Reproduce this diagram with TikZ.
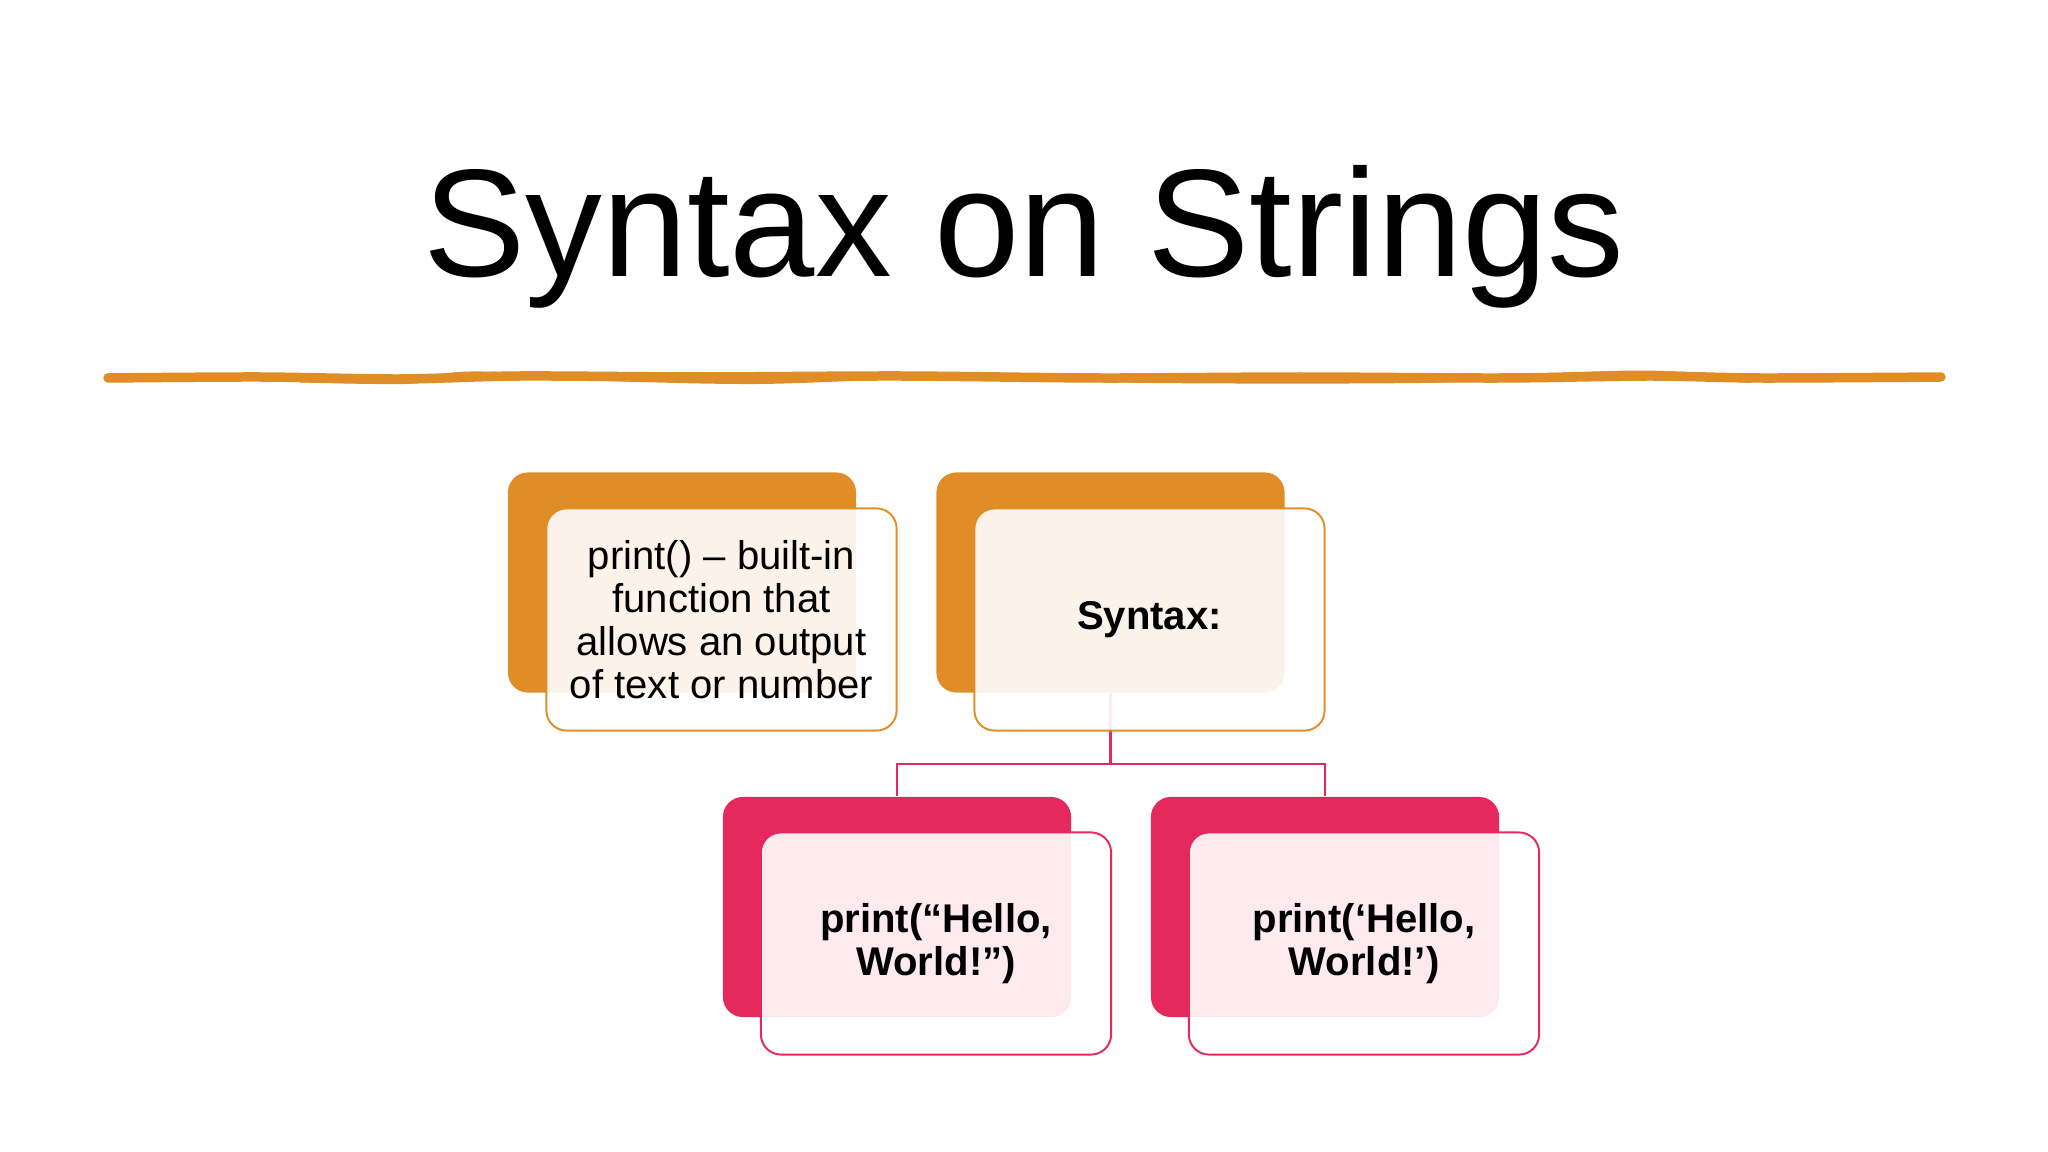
\documentclass[tikz,border=0pt]{standalone}
\usepackage{fontspec}
\setmainfont{Liberation Sans}
\usepackage{xcolor}
\usepackage{tikz}
\definecolor{ochre}{HTML}{E08D27}
\definecolor{rose}{HTML}{E5295C}

\begin{document}
\begin{tikzpicture}[x=0.01cm, y=-0.01cm,
  backbox/.style={rectangle, rounded corners=0.2cm, minimum width=3.48cm, minimum height=2.2cm, inner sep=0pt},
  frontbox/.style={rectangle, rounded corners=0.2cm, line width=0.55pt, fill=white, fill opacity=0.9, text opacity=1,
    minimum width=3.5cm, minimum height=2.22cm, align=center, inner sep=2pt},
  plaintext/.style={font=\fontsize{11.4}{12.2}\selectfont},
  boldtext/.style={font=\fontsize{11.4}{12.4}\selectfont\bfseries},
  link/.style={draw=rose, line width=0.6pt},
  rule/.style={draw=ochre, line cap=round, line join=round}]

\useasboundingbox (0,0) rectangle (2048,1152);

% Title and hand drawn rule
\node[anchor=base, font=\fontsize{43.6}{50}\selectfont] (title) at (1024,277) {Syntax on Strings};
\draw[rule, line width=2.7pt] plot[smooth] coordinates {(108,378) (260,377) (400,379) (520,376) (700,377) (900,376) (1100,378) (1300,377) (1500,378) (1650,376) (1760,378) (1941,377)};
\draw[rule, line width=1.7pt] plot[smooth] coordinates {(300,379.5) (405,381) (470,374.5) (600,378) (760,381) (950,375) (1150,380) (1420,380) (1640,373.5) (1750,380)};

% Back boxes
\node[backbox, fill=ochre] (printback) at (682,582.5) {};
\node[backbox, fill=ochre] (syntaxback) at (1110.5,582.5) {};
\node[backbox, fill=rose] (dqback) at (897,907) {};
\node[backbox, fill=rose] (sqback) at (1325,907) {};

% Connectors
\draw[link] (syntaxback.south) -- ++(0,71) coordinate (split);
\draw[link] (split) -| (dqback.north);
\draw[link] (split) -| (sqback.north);

% Front boxes with text
\node[frontbox, draw=ochre, plaintext] (print) at (721.5,619.5)
  {print() – built-in\\function that\\allows an output\\of text or number};
\node[frontbox, draw=ochre, boldtext] (syntax) at (1149.5,619.5) {Syntax:};
\node[frontbox, draw=rose, boldtext] (dq) at (936,943.5) {print(“Hello,\\World!”)};
\node[frontbox, draw=rose, boldtext] (sq) at (1364,943.5) {print(‘Hello,\\World!’)};

\end{tikzpicture}
\end{document}
